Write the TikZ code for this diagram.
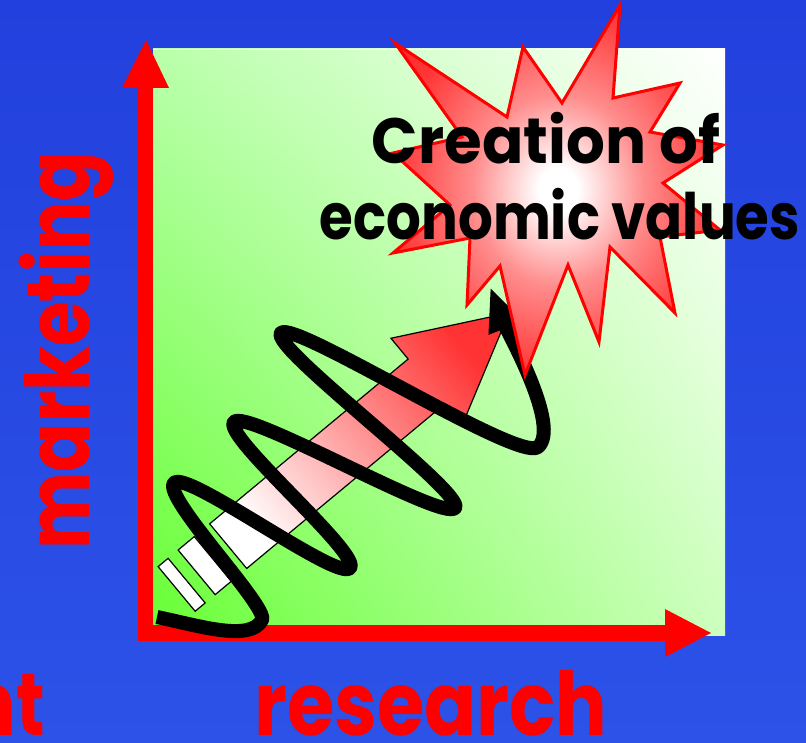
\documentclass[tikz,border=0pt]{standalone}
\usepackage{fontspec}
\usepackage{graphicx}
\newfontfamily\comic{Poppins}
\usetikzlibrary{arrows.meta,shadings}
\definecolor{bgtop}{RGB}{34,64,221}
\definecolor{bgmid}{RGB}{51,102,255}
\definecolor{bgbot}{RGB}{44,82,232}
\definecolor{grn}{RGB}{102,255,51}
\definecolor{grnul}{RGB}{185,255,170}
\definecolor{grnlr}{RGB}{205,255,190}
\definecolor{arrowred}{RGB}{255,51,51}
\definecolor{pinkA}{RGB}{255,140,140}
\definecolor{redA}{RGB}{255,55,55}
\pgfdeclareradialshading{starshade}{\pgfpoint{0bp}{0bp}}{color(0bp)=(white); color(3bp)=(white); color(13bp)=(pinkA); color(25bp)=(redA); color(50bp)=(red)}
\tikzset{
  stripe/.style={fill=white, draw=black, line width=1.2pt},
  squig/.style={draw=black, line width=14pt, line join=round},
  axislabel/.style={text=red, font=\comic\bfseries\fontsize{88}{90}\selectfont, inner sep=0pt},
  startext/.style={text=black, font=\comic\bfseries\fontsize{64}{66}\selectfont, inner sep=0pt},
}
\begin{document}
\begin{tikzpicture}[x=1pt,y=-1pt]
\useasboundingbox (0,0) rectangle (806,743);
% background
\shade[top color=bgtop, middle color=bgmid, bottom color=bgbot] (0,0) rectangle (806,743);
% green square
\shade[upper left=grnul, upper right=white, lower left=grn, lower right=grnlr] (153,49) rectangle (725,635);
\draw[white, line width=1.5pt] (153,49.5) -- (725,49.5);
% axes
\fill[red] (138,88) rectangle (153,641);
\fill[red] (122,88) -- (146,40) -- (169,88) -- cycle;
\fill[red] (138,625) rectangle (665,641);
\fill[red] (665,609) -- (711,633) -- (665,657) -- cycle;
% striped gradient arrow
\begin{scope}[shift={(509,313)}, rotate=39.7]
  \shadedraw[shading=axis, top color=arrowred, bottom color=white, shading angle=-50.3, draw=black, line width=1.2pt]
    (0,0) -- (-107,-56) -- (-107,-29) -- (-365,-29) -- (-365,29) -- (-107,29) -- (-107,56) -- cycle;
  \draw[stripe] (-406,-29) rectangle (-385,29);
  \draw[stripe] (-432,-29) rectangle (-419,29);
\end{scope}
% squiggle
\coordinate (s0) at (157,617);
\coordinate (a1) at (262,620);
\coordinate (a2) at (174,483);
\coordinate (a3) at (350,568);
\coordinate (a4) at (234,422);
\coordinate (a5) at (455,508);
\coordinate (a6) at (281,333);
\coordinate (a7) at (538,447);
\coordinate (s9) at (490,287);
\draw[squig, -{Triangle[length=44pt,width=34pt]}]
  (s0) .. controls (200,626) and (250,642) .. (a1)
       .. controls (269,607) and (162,497) .. (a2)
       .. controls (186,469) and (338,582) .. (a3)
       .. controls (362,554) and (222,436) .. (a4)
       .. controls (246,408) and (443,522) .. (a5)
       .. controls (467,494) and (269,347) .. (a6)
       .. controls (293,319) and (519,463) .. (a7)
       .. controls (561,427) and (508,333) .. (s9);
% star
\shadedraw[shading=starshade, draw=red, line width=3pt]
  (620,5) -- (613,98) -- (680,83) -- (650,132) -- (723,145) -- (663,183) -- (720,230) --
  (660,237) -- (675,313) -- (610,247) -- (599,342) -- (568,265) -- (525,375) -- (500,266) --
  (467,305) -- (470,238) -- (393,253) -- (450,205) -- (393,153) -- (462,137) -- (395,43) --
  (507,117) -- (523,47) -- (562,103) -- cycle;
% texts
\node[startext, anchor=base] (t1) at (546,164) {\resizebox{348pt}{\height}{Creation of}};
\node[startext, anchor=base] (t2) at (560,240) {\resizebox{480pt}{\height}{economic values}};
\node[axislabel, anchor=base, rotate=90] (mk) at (89,351) {\resizebox{397pt}{\height}{marketing}};
\node[axislabel, anchor=base] (rs) at (431,735) {\resizebox{353pt}{\height}{research}};
\node[axislabel, anchor=base east] (nt) at (45,735) {\scalebox{0.8}[1]{nt}};
\end{tikzpicture}
\end{document}
